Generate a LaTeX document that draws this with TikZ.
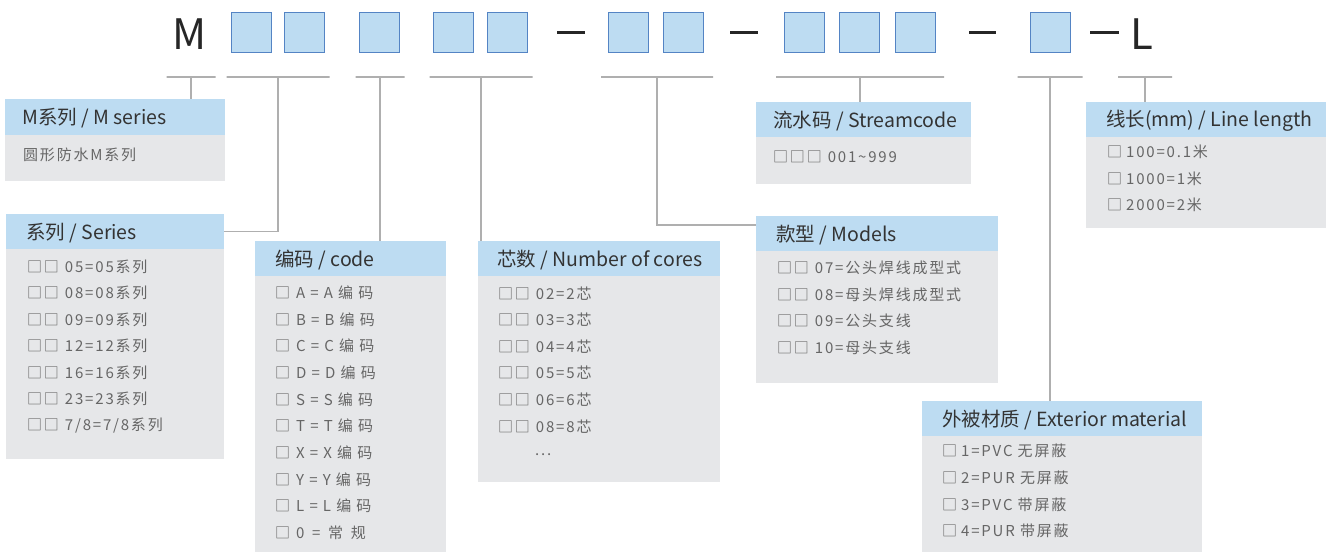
\documentclass[tikz,border=0pt]{standalone}
\usepackage{fontspec}
\setmainfont{Noto Sans CJK SC}
\newfontfamily\itemfont[LetterSpace=12]{Noto Sans CJK SC}
\usetikzlibrary{positioning}

\definecolor{slotfill}{RGB}{189,220,242}
\definecolor{slotedge}{RGB}{84,132,196}
\definecolor{headblue}{RGB}{189,220,242}
\definecolor{cardgray}{RGB}{230,231,233}
\definecolor{headtext}{RGB}{51,51,51}
\definecolor{itemtext}{RGB}{102,102,102}
\definecolor{leadgray}{RGB}{175,175,175}

\tikzset{
    slot/.style={draw=slotedge,fill=slotfill,line width=1.2pt,minimum size=40pt,inner sep=0pt},
    bigletter/.style={anchor=base,inner sep=0pt,text=black!85,font=\fontsize{42}{42}\selectfont},
    dashbar/.style={draw=black!85,line width=3pt},
    bar/.style={draw=leadgray,line width=1.5pt,minimum height=0pt,inner sep=0pt},
    lead/.style={draw=leadgray,line width=1.5pt},
    card/.style={fill=cardgray,anchor=north west,inner sep=0pt},
    cardhead/.style={fill=headblue,anchor=north west,minimum height=35pt,inner sep=0pt},
    headlabel/.style={inner sep=0pt,yshift=-1pt,text=headtext,font=\fontsize{19.5}{23}\selectfont},
    item/.style={anchor=west,inner sep=0pt,text=itemtext,font=\itemfont\fontsize{15}{18}\selectfont}
}

\begin{document}
\begin{tikzpicture}[x=1pt,y=-1pt]
    \useasboundingbox (0,0) rectangle (1328,552);

    % code row
    \node[bigletter] (mletter) at (190,49) {M};
    \node[slot] (k1) at (251.5,32.5) {};
    \node[slot] (k2) at (304.5,32.5) {};
    \node[slot] (k3) at (379.5,32.5) {};
    \node[slot] (k4) at (453.5,32.5) {};
    \node[slot] (k5) at (507.5,32.5) {};
    \draw[dashbar] (557,32) -- (585,32);
    \node[slot] (k6) at (628.5,32.5) {};
    \node[slot] (k7) at (683.5,32.5) {};
    \draw[dashbar] (730,32) -- (758,32);
    \node[slot] (k8) at (804.5,32.5) {};
    \node[slot] (k9) at (859.5,32.5) {};
    \node[slot] (k10) at (915.5,32.5) {};
    \draw[dashbar] (969,32) -- (996,32);
    \node[slot] (k11) at (1050.5,32.5) {};
    \draw[dashbar] (1090,32) -- (1119,32);
    \node[bigletter] (lletter) at (1142,49) {L};

    % underlines
    \node[bar,minimum width=49pt] (u1) at (191,77) {};
    \node[bar,minimum width=103pt] (u2) at (278,77) {};
    \node[bar,minimum width=49pt] (u3) at (380,77) {};
    \node[bar,minimum width=103pt] (u4) at (481,77) {};
    \node[bar,minimum width=112pt] (u5) at (657,77) {};
    \node[bar,minimum width=168pt] (u6) at (860,77) {};
    \node[bar,minimum width=65pt] (u7) at (1050,77) {};
    \node[bar,minimum width=54pt] (u8) at (1145,77) {};

    % M series
    \node[card,minimum width=220pt,minimum height=82pt] (mser) at (5,99) {};
    \node[cardhead,minimum width=220pt,minimum height=36pt] (mserhead) at (5,99) {};
    \node[headlabel,right=17pt of mserhead.west] (mserlabel) {M系列 / M series};
    \node[item] (m1) at (23,155) {圆形防水M系列};

    % Series
    \node[card,minimum width=218pt,minimum height=245pt] (ser) at (6,214) {};
    \node[cardhead,minimum width=218pt] (serhead) at (6,214) {};
    \node[headlabel,right=20pt of serhead.west] (serlabel) {系列 / Series};
    \node[item] (s1) at (27,267) {□□\hspace{6pt}05=05系列};
    \node[item] (s2) at (27,293) {□□\hspace{6pt}08=08系列};
    \node[item] (s3) at (27,320) {□□\hspace{6pt}09=09系列};
    \node[item] (s4) at (27,346) {□□\hspace{6pt}12=12系列};
    \node[item] (s5) at (27,373) {□□\hspace{6pt}16=16系列};
    \node[item] (s6) at (27,399) {□□\hspace{6pt}23=23系列};
    \node[item] (s7) at (27,426) {□□\hspace{6pt}7/8=7/8系列};

    % code
    \node[card,minimum width=191pt,minimum height=311pt] (code) at (255,241) {};
    \node[cardhead,minimum width=191pt] (codehead) at (255,241) {};
    \node[headlabel,right=20pt of codehead.west] (codelabel) {编码 / code};
    \node[item] (c1) at (275,293) {□\hspace{6pt}A = A 编 码};
    \node[item] (c2) at (275,320) {□\hspace{6pt}B = B 编 码};
    \node[item] (c3) at (275,346) {□\hspace{6pt}C = C 编 码};
    \node[item] (c4) at (275,373) {□\hspace{6pt}D = D 编 码};
    \node[item] (c5) at (275,400) {□\hspace{6pt}S = S 编 码};
    \node[item] (c6) at (275,426) {□\hspace{6pt}T = T 编 码};
    \node[item] (c7) at (275,453) {□\hspace{6pt}X = X 编 码};
    \node[item] (c8) at (275,480) {□\hspace{6pt}Y = Y 编 码};
    \node[item] (c9) at (275,506) {□\hspace{6pt}L = L 编 码};
    \node[item] (c10) at (275,533) {□\hspace{6pt}0 \,=\, 常 \,规};

    % cores
    \node[card,minimum width=242pt,minimum height=241pt] (cores) at (478,241) {};
    \node[cardhead,minimum width=242pt] (coreshead) at (478,241) {};
    \node[headlabel,right=19pt of coreshead.west] (coreslabel) {芯数 / Number of cores};
    \node[item] (n1) at (498,294) {□□\hspace{6pt}02=2芯};
    \node[item] (n2) at (498,320) {□□\hspace{6pt}03=3芯};
    \node[item] (n3) at (498,347) {□□\hspace{6pt}04=4芯};
    \node[item] (n4) at (498,373) {□□\hspace{6pt}05=5芯};
    \node[item] (n5) at (498,400) {□□\hspace{6pt}06=6芯};
    \node[item] (n6) at (498,427) {□□\hspace{6pt}08=8芯};
    \node[item] (n7) at (535,455) {...};

    % streamcode
    \node[card,minimum width=215pt,minimum height=82pt] (stream) at (756,102) {};
    \node[cardhead,minimum width=215pt] (streamhead) at (756,102) {};
    \node[headlabel,right=17pt of streamhead.west] (streamlabel) {流水码 / Streamcode};
    \node[item] (w1) at (773,157) {□□□\hspace{6pt}001\textasciitilde 999};

    % models
    \node[card,minimum width=242pt,minimum height=167pt] (models) at (756,216) {};
    \node[cardhead,minimum width=242pt] (modelshead) at (756,216) {};
    \node[headlabel,right=20pt of modelshead.west] (modelslabel) {款型 / Models};
    \node[item] (t1) at (777,268) {□□\hspace{6pt}07=公头焊线成型式};
    \node[item] (t2) at (777,295) {□□\hspace{6pt}08=母头焊线成型式};
    \node[item] (t3) at (777,321) {□□\hspace{6pt}09=公头支线};
    \node[item] (t4) at (777,348) {□□\hspace{6pt}10=母头支线};

    % line length
    \node[card,minimum width=240pt,minimum height=126pt] (length) at (1086,102) {};
    \node[cardhead,minimum width=240pt] (lengthhead) at (1086,102) {};
    \node[headlabel,right=20pt of lengthhead.west] (lengthlabel) {线长(mm) / Line length};
    \node[item] (l1) at (1107,152) {□\hspace{4pt}100=0.1米};
    \node[item] (l2) at (1107,179) {□\hspace{4pt}1000=1米};
    \node[item] (l3) at (1107,205) {□\hspace{4pt}2000=2米};

    % exterior material
    \node[card,minimum width=280pt,minimum height=151pt] (exterior) at (922,401) {};
    \node[cardhead,minimum width=280pt] (exteriorhead) at (922,401) {};
    \node[headlabel,right=20pt of exteriorhead.west] (exteriorlabel) {外被材质 / Exterior material};
    \node[item] (e1) at (942,451) {□\hspace{4pt}1=PVC 无屏蔽};
    \node[item] (e2) at (942,478) {□\hspace{4pt}2=PUR 无屏蔽};
    \node[item] (e3) at (942,505) {□\hspace{4pt}3=PVC 带屏蔽};
    \node[item] (e4) at (942,531) {□\hspace{4pt}4=PUR 带屏蔽};

    % leads
    \draw[lead] (u1.center) -- (u1.center |- mserhead.north);
    \draw[lead] (u2.center) |- (serhead.east);
    \draw[lead] (u3.center) -- (u3.center |- codehead.north);
    \draw[lead] (u4.center) -- (u4.center |- coreshead.north);
    \draw[lead] (u5.center) |- ([yshift=8.5pt]modelshead.west);
    \draw[lead] (u6.center) -- (u6.center |- streamhead.north);
    \draw[lead] (u7.center) -- (u7.center |- exteriorhead.north);
    \draw[lead] (u8.center) -- (u8.center |- lengthhead.north);
\end{tikzpicture}
\end{document}
